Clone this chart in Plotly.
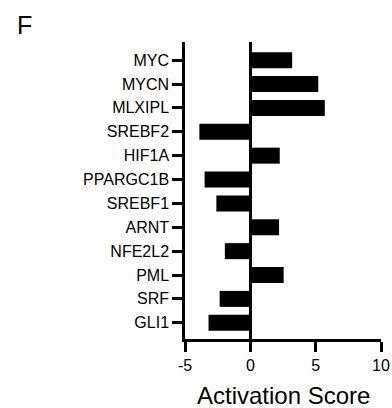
import plotly.graph_objects as go

genes = ["MYC", "MYCN", "MLXIPL", "SREBF2", "HIF1A", "PPARGC1B",
         "SREBF1", "ARNT", "NFE2L2", "PML", "SRF", "GLI1"]
scores = [3.2, 5.2, 5.7, -3.9, 2.25, -3.5, -2.6, 2.2, -1.95, 2.55, -2.35, -3.2]
x_ticks = [-5, 0, 5, 10]
x_title = "Activation Score"
panel_label = "F"

FONT = "Liberation Sans, Arial, Helvetica, sans-serif"

fig = go.Figure(go.Bar(
    x=scores, y=genes, orientation="h",
    marker=dict(color="black", line=dict(width=0)),
    width=0.67,
))

fig.update_layout(
    width=392, height=408,
    margin=dict(l=185, r=11, t=42, b=69),
    paper_bgcolor="white", plot_bgcolor="white",
    showlegend=False,
    font=dict(family=FONT, color="black", size=16),
)
fig.add_annotation(text=panel_label, xref="paper", yref="paper",
                   x=-185/196 + 15/196, y=1 + 17/297,
                   xanchor="left", yanchor="middle", showarrow=False,
                   font=dict(size=25, family=FONT, color="black"))
fig.add_annotation(text=x_title, xref="paper", yref="paper",
                   x=0.5, y=-(396 - 339) / 297,
                   xanchor="center", yanchor="middle", showarrow=False,
                   font=dict(size=24, family=FONT, color="black"))

fig.update_xaxes(
    automargin=False,
    range=[-5, 10], tickvals=x_ticks, ticktext=[str(v) for v in x_ticks],
    showgrid=False, showline=True, linecolor="black", linewidth=2.5,
    ticks="outside", ticklen=10, tickwidth=2.5, tickcolor="black",
    zeroline=True, zerolinecolor="black", zerolinewidth=2.5,
    tickfont=dict(size=16, family=FONT, color="black"),
)
fig.update_yaxes(
    automargin=False,
    categoryorder="array", categoryarray=genes,
    range=[11.68, -0.76],
    showgrid=False, showline=True, linecolor="black", linewidth=2.5,
    ticks="outside", ticklen=10, tickwidth=2.5, tickcolor="black",
    tickfont=dict(size=16, family=FONT, color="black"),
    zeroline=False,
)

fig.write_html("out.html")
